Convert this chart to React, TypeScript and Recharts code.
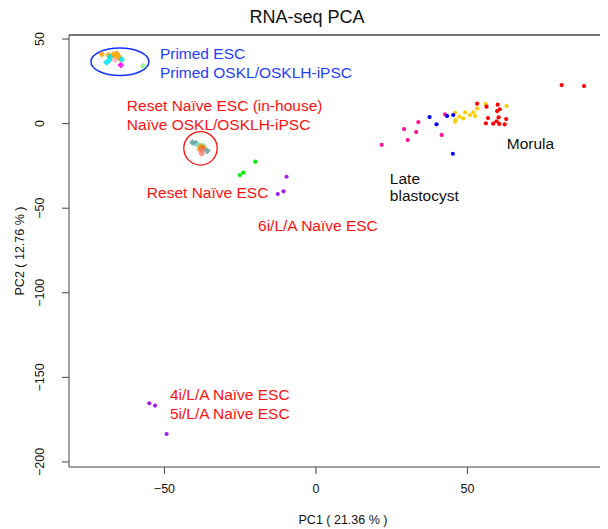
import React from 'react';
import {
  ScatterChart,
  Scatter,
  XAxis,
  YAxis,
  ReferenceDot,
  ReferenceLine,
  Customized,
} from 'recharts';

const FONT = 'Liberation Sans, Arial, Helvetica, sans-serif';

const X_DOMAIN: [number, number] = [-81.5, 96.4];
const Y_DOMAIN: [number, number] = [-203, 52.4];
const X_TICKS = [-50, 0, 50];
const Y_TICKS = [-200, -150, -100, -50, 0, 50];

// Primed cluster (diamond markers)
const primedOrange = [
  { x: -70.7, y: 41.0 }, { x: -68.5, y: 40.5 }, { x: -66.9, y: 41.0 }, { x: -65.8, y: 41.5 },
  { x: -65.2, y: 40.0 }, { x: -66.3, y: 39.2 }, { x: -67.4, y: 40.0 }, { x: -64.9, y: 38.6 },
];
const primedCyan = [
  { x: -69.1, y: 36.2 }, { x: -68.0, y: 39.5 }, { x: -64.1, y: 38.0 }, { x: -68.2, y: 37.6 },
];
const primedPink = [{ x: -66.3, y: 37.6 }];
const primedMagenta = [{ x: -64.4, y: 34.6 }];
const primedGreen = [{ x: -57.0, y: 34.0 }];

// Reset naive cluster (diamond markers)
const resetCadet = [{ x: -40.7, y: -11.1 }, { x: -39.6, y: -11.6 }, { x: -35.9, y: -16.0 }];
const resetAqua = [{ x: -38.8, y: -12.6 }, { x: -37.2, y: -13.1 }];
const resetOrange = [{ x: -38.1, y: -13.5 }, { x: -37.2, y: -14.0 }, { x: -38.3, y: -15.2 }];
const resetBrown = [{ x: -37.5, y: -15.0 }];
const resetSalmon = [{ x: -37.7, y: -15.6 }, { x: -37.7, y: -17.6 }];

// Other groups (small dots)
const greenDots = [{ x: -20.0, y: -22.5 }, { x: -24.0, y: -29.0 }, { x: -25.1, y: -30.4 }];
const purpleDots = [
  { x: -9.7, y: -31.4 }, { x: -10.7, y: -40.0 }, { x: -12.6, y: -41.6 },
  { x: -55.0, y: -165.3 }, { x: -53.1, y: -166.7 }, { x: -49.3, y: -183.5 },
];
const pinkDots = [
  { x: 21.7, y: -12.5 }, { x: 29.1, y: -3.2 }, { x: 30.3, y: -9.7 }, { x: 33.1, y: -5.0 },
  { x: 33.8, y: 0.9 }, { x: 41.5, y: -6.7 }, { x: 42.6, y: 5.5 },
];
const blueDots = [
  { x: 37.5, y: 3.9 }, { x: 39.8, y: -0.4 }, { x: 43.3, y: 4.5 }, { x: 45.3, y: 5.1 }, { x: 45.2, y: -17.8 },
];
const yellowDots = [
  { x: 56.0, y: 11.6 }, { x: 62.9, y: 10.4 }, { x: 53.2, y: 9.0 }, { x: 45.9, y: 6.4 },
  { x: 49.2, y: 6.7 }, { x: 51.9, y: 6.7 }, { x: 47.3, y: 4.1 }, { x: 48.6, y: 3.1 },
  { x: 50.8, y: 5.1 }, { x: 52.5, y: 4.5 }, { x: 46.1, y: 2.1 }, { x: 45.9, y: 1.1 },
];
const redDots = [
  { x: 81.1, y: 22.8 }, { x: 88.5, y: 22.2 },
  { x: 53.2, y: 11.8 }, { x: 56.3, y: 10.0 }, { x: 60.0, y: 11.2 }, { x: 60.7, y: 8.5 },
  { x: 59.8, y: 7.4 }, { x: 56.8, y: 3.3 }, { x: 60.3, y: 3.7 }, { x: 62.8, y: 2.7 },
  { x: 56.1, y: 0.2 }, { x: 58.5, y: 0.0 }, { x: 59.6, y: 1.4 }, { x: 60.5, y: -0.2 }, { x: 62.3, y: -0.4 },
];

// Annotations: text, anchor (left edge, vertical centre) in data units, colour
const annotations = [
  { text: 'Primed ESC', x: -51.5, y: 41.7, color: '#1f3dff' },
  { text: 'Primed OSKL/OSKLH-iPSC', x: -51.5, y: 30.5, color: '#1f3dff' },
  { text: 'Reset Naïve ESC (in-house)', x: -62.4, y: 11.0, color: '#ff1010' },
  { text: 'Naïve OSKL/OSKLH-iPSC', x: -62.4, y: -0.8, color: '#ff1010' },
  { text: 'Reset Naïve ESC', x: -55.8, y: -41.0, color: '#ff1010' },
  { text: '6i/L/A Naïve ESC', x: -19.1, y: -60.5, color: '#ff1010' },
  { text: '4i/L/A Naïve ESC', x: -48.2, y: -160.4, color: '#ff1010' },
  { text: '5i/L/A Naïve ESC', x: -48.2, y: -171.6, color: '#ff1010' },
  { text: 'Late', x: 24.4, y: -32.2, color: '#111111' },
  { text: 'blastocyst', x: 24.4, y: -42.3, color: '#111111' },
  { text: 'Morula', x: 63.0, y: -11.5, color: '#111111' },
];

const minus = (v: number) => (v < 0 ? '\u2212' + Math.abs(v) : String(v));

const dot = (color: string, r = 2.1) => (p: any) =>
  <circle cx={p.cx} cy={p.cy} r={r} fill={color} />;

const diamond = (color: string, s = 2.8, op = 0.85) => (p: any) => (
  <path
    d={`M${p.cx},${p.cy - s}L${p.cx + s},${p.cy}L${p.cx},${p.cy + s}L${p.cx - s},${p.cy}Z`}
    fill={color}
    stroke={color}
    strokeWidth={1}
    strokeLinejoin="round"
    fillOpacity={op}
    strokeOpacity={op}
  />
);

const XTick = (props: any) => {
  const { x, y, payload } = props;
  return (
    <text x={x} y={y + 13} textAnchor="middle" dominantBaseline="central" fontSize={12.5} fontFamily={FONT} fill="#111">
      {minus(payload.value)}
    </text>
  );
};

const YTick = (props: any) => {
  const { x, y, payload } = props;
  const cx = x - 20;
  return (
    <text
      x={cx}
      y={y}
      transform={`rotate(-90, ${cx}, ${y})`}
      textAnchor="middle"
      dominantBaseline="central"
      fontSize={12.5}
      fontFamily={FONT}
      fill="#111"
    >
      {minus(payload.value)}
    </text>
  );
};

const Extras = () => (
  <g>
    <text x={299} y={8.5} textAnchor="middle" dominantBaseline="central" fontSize={18} fontFamily={FONT} fill="#111">
      RNA-seq PCA
    </text>
    <text x={335} y={512} textAnchor="middle" dominantBaseline="central" fontSize={12.5} fontFamily={FONT} fill="#111">
      PC1 ( 21.36 % )
    </text>
    <text
      x={12}
      y={243}
      transform="rotate(-90, 12, 243)"
      textAnchor="middle"
      dominantBaseline="central"
      fontSize={12.5}
      fontFamily={FONT}
      fill="#111"
    >
      PC2 ( 12.76 % )
    </text>
  </g>
);

export default function App() {
  return (
    <ScatterChart width={600} height={521} margin={{ top: 27, right: 0, bottom: 22, left: 0 }}>
      <XAxis
        type="number"
        dataKey="x"
        domain={X_DOMAIN}
        ticks={X_TICKS}
        allowDataOverflow
        tickSize={7}
        height={40}
        stroke="#444"
        tick={<XTick />}
      />
      <YAxis
        type="number"
        dataKey="y"
        domain={Y_DOMAIN}
        ticks={Y_TICKS}
        allowDataOverflow
        tickSize={7}
        width={61}
        stroke="#444"
        tick={<YTick />}
      />
      <ReferenceLine y={Y_DOMAIN[1]} stroke="#444" strokeWidth={1.5} ifOverflow="extendDomain" />
      <ReferenceDot
        x={-64.7}
        y={36.6}
        r={1}
        shape={(p: any) => (
          <ellipse cx={p.cx} cy={p.cy} rx={29} ry={13.8} fill="none" stroke="#1530ff" strokeWidth={1.5} />
        )}
      />
      <ReferenceDot
        x={-38.1}
        y={-14.6}
        r={1}
        shape={(p: any) => (
          <circle cx={p.cx} cy={p.cy} r={16.7} fill="none" stroke="#ff1010" strokeWidth={1.3} />
        )}
      />

      <Scatter data={primedOrange} isAnimationActive={false} shape={diamond('#ffa500')} />
      <Scatter data={primedCyan} isAnimationActive={false} shape={diamond('#00e5ee')} />
      <Scatter data={primedPink} isAnimationActive={false} shape={diamond('#ffb6c1')} />
      <Scatter data={primedMagenta} isAnimationActive={false} shape={diamond('#ff00ff')} />
      <Scatter data={primedGreen} isAnimationActive={false} shape={diamond('#90ee90')} />

      <Scatter data={resetCadet} isAnimationActive={false} shape={diamond('#5f9ea0', 3, 0.8)} />
      <Scatter data={resetAqua} isAnimationActive={false} shape={diamond('#76eec6', 3, 0.8)} />
      <Scatter data={resetOrange} isAnimationActive={false} shape={diamond('#ff8c00', 3, 0.75)} />
      <Scatter data={resetBrown} isAnimationActive={false} shape={diamond('#a0522d', 3, 0.6)} />
      <Scatter data={resetSalmon} isAnimationActive={false} shape={diamond('#fa8072', 3, 0.8)} />

      <Scatter data={greenDots} isAnimationActive={false} shape={dot('#00ee00')} />
      <Scatter data={purpleDots} isAnimationActive={false} shape={dot('#a020f0')} />
      <Scatter data={pinkDots} isAnimationActive={false} shape={dot('#ff1493')} />
      <Scatter data={yellowDots} isAnimationActive={false} shape={dot('#ffcc00')} />
      <Scatter data={redDots} isAnimationActive={false} shape={dot('#ff0000')} />
      <Scatter data={blueDots} isAnimationActive={false} shape={dot('#0000ff')} />

      {annotations.map((a) => (
        <ReferenceDot
          key={a.text}
          x={a.x}
          y={a.y}
          r={1}
          shape={(p: any) => (
            <text
              x={p.cx}
              y={p.cy}
              textAnchor="start"
              dominantBaseline="central"
              fontSize={15.5}
              fontFamily={FONT}
              fill={a.color}
            >
              {a.text}
            </text>
          )}
        />
      ))}
      <Customized component={Extras} />
    </ScatterChart>
  );
}
